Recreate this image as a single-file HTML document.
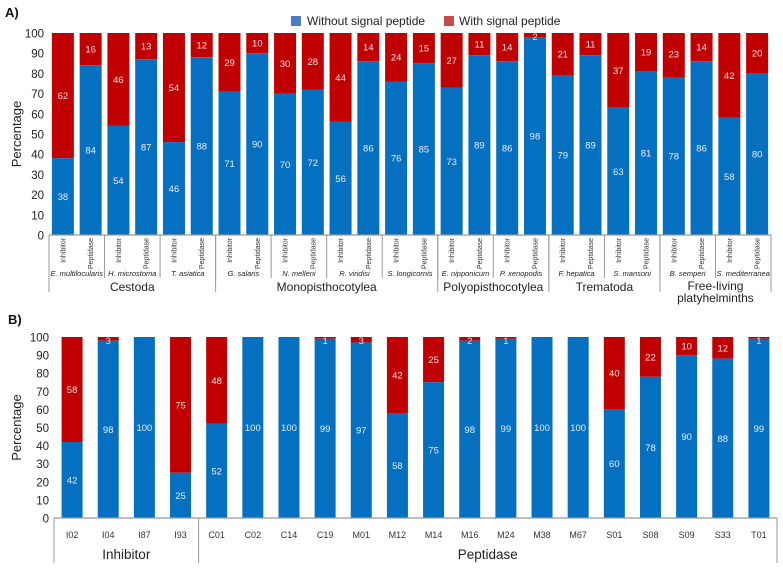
<!DOCTYPE html>
<html><head><meta charset="utf-8"><style>
body{margin:0;background:#fff;}
svg text{font-family:"Liberation Sans","DejaVu Sans",sans-serif;}
</style></head><body>
<svg id="chart" width="783" height="570" xmlns="http://www.w3.org/2000/svg"></svg>
<script>
const aSpecies=["E. multilocularis","H. microstoma","T. asiatica","G. salaris","N. melleni","R. viridisi","S. longicornis","E. nipponicum","P. xenopodis","F. hepatica","S. mansoni","B. semperi","S. mediterranea"];
const aTypes=["Inhibitor","Peptidase"];
const aGroups=[["Cestoda",3],["Monopisthocotylea",4],["Polyopisthocotylea",2],["Trematoda",2],["Free-living|platyhelminths",2]];
const aBlue=[38,84,54,87,46,88,71,90,70,72,56,86,76,85,73,89,86,98,79,89,63,81,78,86,58,80];
const aRed=[62,16,46,13,54,12,29,10,30,28,44,14,24,15,27,11,14,2,21,11,37,19,23,14,42,20];
const bCats=["I02","I04","I87","I93","C01","C02","C14","C19","M01","M12","M14","M16","M24","M38","M67","S01","S08","S09","S33","T01"];
const bBlue=[42,98,100,25,52,100,100,99,97,58,75,98,99,100,100,60,78,90,88,99];
const bRed=[58,3,0,75,48,0,0,1,3,42,25,2,1,0,0,40,22,10,12,1];
const bGroups=[["Inhibitor",4],["Peptidase",16]];
const yTicks=[0,10,20,30,40,50,60,70,80,90,100];

const svg=document.getElementById('chart');
const NS="http://www.w3.org/2000/svg";
function el(tag,attrs,parent,text){const e=document.createElementNS(NS,tag);for(const k in attrs)e.setAttribute(k,attrs[k]);if(text!==undefined)e.textContent=text;(parent||svg).appendChild(e);return e;}
const BLUE="#0570c0",RED="#c00000",AX="#999";

function panel(o){
  const g=el('g',{});
  
  
  const y=v=>o.y0-(o.y0-o.y100)*v/100;
  const slot=(o.x1-o.x0)/o.n;
  const cx=i=>o.x0+slot*(i+0.5);
  yTicks.forEach(t=>{const tx=el('text',{x:o.x0-5,y:y(t)+4.5,'text-anchor':'end','font-size':11.5,fill:'#222'},g,t);
    
    });
  const yt=el('text',{x:0,y:0,transform:`translate(${o.ylx},${(o.y0+o.y100)/2}) rotate(-90)`,'text-anchor':'middle','font-size':13,fill:'#222'},g,'Percentage');
  
  
  for(let i=0;i<o.n;i++){
    const b=o.blue[i],r=o.red[i],x=cx(i)-o.bw/2;
    const rb=el('rect',{x:x,y:y(100),width:o.bw,height:y(b)-y(100),fill:RED},g);
    
    
    const bb=el('rect',{x:x,y:y(b),width:o.bw,height:y(0)-y(b),fill:BLUE},g);
    
    
    const bl=el('text',{x:cx(i),y:y(b/2)+3.5,'text-anchor':'middle','font-size':9.5,fill:'#e8eef8'},g,b);
    
    
    if(r>0){const rl=el('text',{x:cx(i),y:Math.max(y(b+r/2)+3.5,y(100)+7),'text-anchor':'middle','font-size':9.5,fill:'#f4e0e0'},g,r);
      
      }
  }
  el('line',{x1:o.x0,y1:o.y0,x2:o.x1,y2:o.y0,stroke:AX,'stroke-width':1.2},g);
  return {g,y,slot,cx,x0:o.x0,x1:o.x1};
}

const lg=el('g',{});


el('rect',{x:291,y:16,width:10,height:10,fill:'#4a7fc8'},lg);
el('text',{x:307,y:25,'font-size':12,fill:'#222'},lg,'Without signal peptide');
el('rect',{x:444,y:16,width:10,height:10,fill:'#c84a4a'},lg);
el('text',{x:459,y:25,'font-size':12,fill:'#222'},lg,'With signal peptide');
el('text',{x:5,y:17,'font-size':13,'font-weight':'bold',fill:'#111'},null,'A)');
el('text',{x:8,y:324,'font-size':13,'font-weight':'bold',fill:'#111'},null,'B)');

const A=panel({name:'panel-a',x0:49,x1:771,y0:235,y100:33,n:aBlue.length,bw:22,blue:aBlue,red:aRed,ylx:21});
for(let i=0;i<aBlue.length;i++){
  const t=el('text',{x:0,y:0,transform:`translate(${A.cx(i)+2.5},238) rotate(-90)`,'text-anchor':'end','font-size':7,fill:'#333'},A.g,aTypes[i%2]);
  
  
}
aSpecies.forEach((s,k)=>{
  const c=A.x0+A.slot*(2*k+1);
  const t=el('text',{x:c,y:276,'text-anchor':'middle','font-size':7.5,'font-style':'italic',fill:'#222'},A.g,s);
  
  
  el('line',{x1:A.x0+A.slot*2*k,y1:235,x2:A.x0+A.slot*2*k,y2:278,stroke:AX},A.g);
});
let acc=0;
el('line',{x1:A.x0,y1:235,x2:A.x0,y2:292,stroke:AX},A.g);
aGroups.forEach(([name,cnt])=>{
  const xs=A.x0+A.slot*2*acc, xe=A.x0+A.slot*2*(acc+cnt);
  el('line',{x1:xe,y1:235,x2:xe,y2:292,stroke:AX},A.g);
  const parts=name.split('|');
  parts.forEach((p,j)=>{const t=el('text',{x:(xs+xe)/2,y:(parts.length>1?290:291)+j*12,'text-anchor':'middle','font-size':12,fill:'#222'},A.g,p);
    
    });
  acc+=cnt;
});

const B=panel({name:'panel-b',x0:54,x1:777,y0:518,y100:337,n:bBlue.length,bw:21,blue:bBlue,red:bRed,ylx:21});
bCats.forEach((c,i)=>{
  const t=el('text',{x:B.cx(i),y:538,'text-anchor':'middle','font-size':9,fill:'#333'},B.g,c);
  
  
});
acc=0;
el('line',{x1:B.x0,y1:518,x2:B.x0,y2:563,stroke:AX},B.g);
bGroups.forEach(([name,cnt])=>{
  const xs=B.x0+B.slot*acc, xe=B.x0+B.slot*(acc+cnt);
  el('line',{x1:xe,y1:518,x2:xe,y2:563,stroke:AX},B.g);
  const t=el('text',{x:(xs+xe)/2,y:559,'text-anchor':'middle','font-size':13.5,fill:'#222'},B.g,name);
  
  
  acc+=cnt;
});
</script>
</body></html>
